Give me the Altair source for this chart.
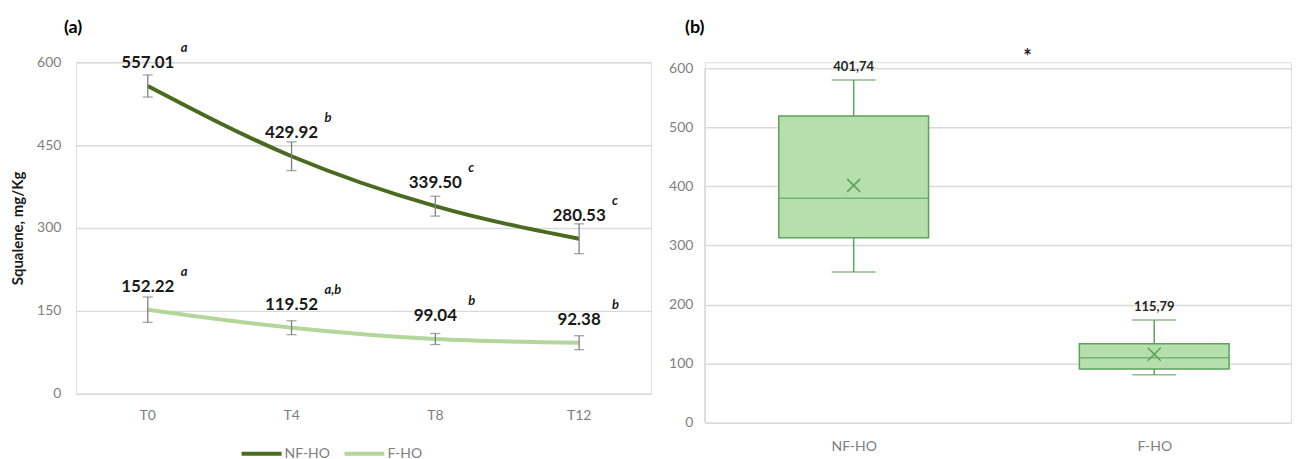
import altair as alt
import pandas as pd

# ---- Panel (a): squalene over storage time ----
times = ["T0", "T4", "T8", "T12"]
nf_values = [557.01, 429.92, 339.50, 280.53]
f_values = [152.22, 119.52, 99.04, 92.38]
nf_err = [20, 26, 18, 27]
f_err = [23, 12.6, 10, 12.6]
nf_letters = ["a", "b", "c", "c"]
f_letters = ["a", "a,b", "b", "b"]
series_names = ["NF-HO", "F-HO"]
series_colors = ["#4a6b1f", "#b3d79a"]

# ---- Panel (b): box plot summary per oil ----
groups = ["NF-HO", "F-HO"]
whisker_low = [255, 81]
q1 = [313, 91]
median = [380, 110]
q3 = [519, 133.5]
whisker_high = [580, 174]
means = [401.74, 115.79]
mean_labels = ["401,74", "115,79"]

FONT = "Lato"
GRID = "#d9d9d9"
TICK_GRAY = "#808080"

rows = []
for name, vals, errs, lets in [("NF-HO", nf_values, nf_err, nf_letters),
                               ("F-HO", f_values, f_err, f_letters)]:
    for t, v, e, l in zip(times, vals, errs, lets):
        rows.append({"series": name, "time": t, "value": v,
                     "lo": v - e, "hi": v + e, "label": f"{v:.2f}", "letter": l})
line_df = pd.DataFrame(rows)

x_a = alt.X("time:N", sort=times, title=None,
            scale=alt.Scale(domain=times, paddingInner=0, paddingOuter=0),
            axis=alt.Axis(labelAngle=0, ticks=False, tickSize=0, domain=False,
                          labelPadding=15, labelFont=FONT, labelFontSize=14,
                          labelColor=TICK_GRAY, grid=False))
y_a_scale = alt.Scale(domain=[0, 600], nice=False)

base_a = alt.Chart(line_df)

lines = base_a.mark_line(strokeWidth=4, interpolate="monotone").encode(
    x=x_a,
    y=alt.Y("value:Q", scale=y_a_scale,
            axis=alt.Axis(values=[0, 150, 300, 450, 600], domain=False, ticks=False,
                          tickSize=0, labelPadding=15, labelFont=FONT, labelFontSize=14,
                          labelColor=TICK_GRAY, gridColor=GRID, gridWidth=1.5,
                          title="Squalene, mg/Kg", titleFont=FONT, titleFontSize=15,
                          titleFontWeight="bold", titleColor="#1a1a1a",
                          titleAngle=270, titleBaseline="top", titleX=-65,
                          titleY=166, titleAlign="center")),
    color=alt.Color("series:N", scale=alt.Scale(domain=series_names, range=series_colors),
                    legend=alt.Legend(title=None, orient="none", direction="horizontal",
                                      legendX=164, legendY=370, symbolType="stroke",
                                      symbolStrokeWidth=4, symbolSize=1600,
                                      labelFont=FONT, labelFontSize=14,
                                      labelColor=TICK_GRAY, labelOffset=1,
                                      columnPadding=6)),
)

err_rules = base_a.mark_rule(color="#7f7f7f", strokeWidth=1.3).encode(
    x=alt.X("time:N", sort=times), y="lo:Q", y2="hi:Q")
err_lo = base_a.mark_tick(color="#7f7f7f", thickness=1.3, size=10, orient="horizontal").encode(
    x=alt.X("time:N", sort=times), y="lo:Q")
err_hi = base_a.mark_tick(color="#7f7f7f", thickness=1.3, size=10, orient="horizontal").encode(
    x=alt.X("time:N", sort=times), y="hi:Q")

value_text = base_a.mark_text(font=FONT, fontSize=17, fontWeight="bold", color="#1a1a1a",
                              dy=-23).encode(
    x=alt.X("time:N", sort=times), y="value:Q", text="label:N")
letter_text = base_a.mark_text(font=FONT, fontSize=13, fontWeight="bold", fontStyle="italic",
                               color="#1a1a1a", align="left", dx=33, dy=-38).encode(
    x=alt.X("time:N", sort=times), y="value:Q", text="letter:N")

tag_a = alt.Chart(pd.DataFrame({"t": ["(a)"]})).mark_text(
    font=FONT, fontSize=18, fontWeight="bold", color="#000000", align="left",
    baseline="middle").encode(x=alt.value(-12), y=alt.value(-34), text="t:N")

panel_a = alt.layer(lines, err_rules, err_lo, err_hi, value_text, letter_text, tag_a).properties(
    width=576, height=332)

# ---- panel (b) ----
box_df = pd.DataFrame({"group": groups, "wlo": whisker_low, "q1": q1, "med": median,
                       "q3": q3, "whi": whisker_high, "mean": means, "lab": mean_labels})

x_b = alt.X("group:N", sort=groups, title=None,
            scale=alt.Scale(type="point", domain=groups, padding=0.475, align=0.521),
            axis=alt.Axis(labelAngle=0, ticks=False, tickSize=0, domain=False,
                          labelPadding=17, labelFont=FONT, labelFontSize=14,
                          labelColor=TICK_GRAY))
y_b_scale = alt.Scale(domain=[0, 610], nice=False)
BOX_STROKE = "#5ba35a"
BOX_FILL = "#b6dfae"

base_b = alt.Chart(box_df)

whisk = base_b.mark_rule(color=BOX_STROKE, strokeWidth=1.5).encode(
    x=x_b,
    y=alt.Y("wlo:Q", scale=y_b_scale,
            axis=alt.Axis(values=[0, 100, 200, 300, 400, 500, 600], ticks=False, tickSize=0,
                          domain=False, labelPadding=12, labelFont=FONT, labelFontSize=14,
                          labelColor=TICK_GRAY, gridColor=GRID, gridWidth=1.5, title=None)),
    y2="whi:Q")
caps_lo = base_b.mark_tick(color=BOX_STROKE, thickness=1.5, size=44, orient="horizontal").encode(
    x=alt.X("group:N", sort=groups), y="wlo:Q")
caps_hi = base_b.mark_tick(color=BOX_STROKE, thickness=1.5, size=44, orient="horizontal").encode(
    x=alt.X("group:N", sort=groups), y="whi:Q")
boxes = base_b.mark_bar(size=150, fill=BOX_FILL, stroke=BOX_STROKE, strokeWidth=1.5).encode(
    x=alt.X("group:N", sort=groups), y="q1:Q", y2="q3:Q")
med = base_b.mark_tick(color=BOX_STROKE, thickness=1.5, size=150, orient="horizontal").encode(
    x=alt.X("group:N", sort=groups), y="med:Q")
mean_pts = base_b.mark_point(shape="M-1,-1L1,1M-1,1L1,-1", size=170, stroke=BOX_STROKE,
                             strokeWidth=1.6, filled=False, opacity=1).encode(
    x=alt.X("group:N", sort=groups), y="mean:Q")
mean_text = base_b.mark_text(font=FONT, fontSize=13, fontWeight="bold", color="#262626",
                             dy=-13).encode(
    x=alt.X("group:N", sort=groups), y="whi:Q", text="lab:N")

left_line = alt.Chart(pd.DataFrame({"v": [0]})).mark_rule(color=GRID, strokeWidth=1.5).encode(
    x=alt.value(0), y=alt.value(6), y2=alt.value(361))
tag_b = alt.Chart(pd.DataFrame({"t": ["(b)"]})).mark_text(
    font=FONT, fontSize=18, fontWeight="bold", color="#000000", align="left",
    baseline="middle").encode(x=alt.value(-20), y=alt.value(-34), text="t:N")
star = alt.Chart(pd.DataFrame({"t": ["*"]})).mark_text(
    font=FONT, fontSize=20, fontWeight="bold", color="#1a1a1a", baseline="middle").encode(
    x=alt.value(323), y=alt.value(-4), text="t:N")

panel_b = alt.layer(left_line, whisk, caps_lo, caps_hi, boxes, med, mean_pts, mean_text,
                    tag_b, star).properties(width=587, height=361)

chart = alt.hconcat(panel_a, panel_b, spacing=54, bounds="flush").properties(
    padding={"left": 10, "top": 18, "right": 4, "bottom": 0}
).configure_view(stroke=None).configure(background="#ffffff")

chart.save("out.html", embed_options={"renderer": "svg", "actions": False})
